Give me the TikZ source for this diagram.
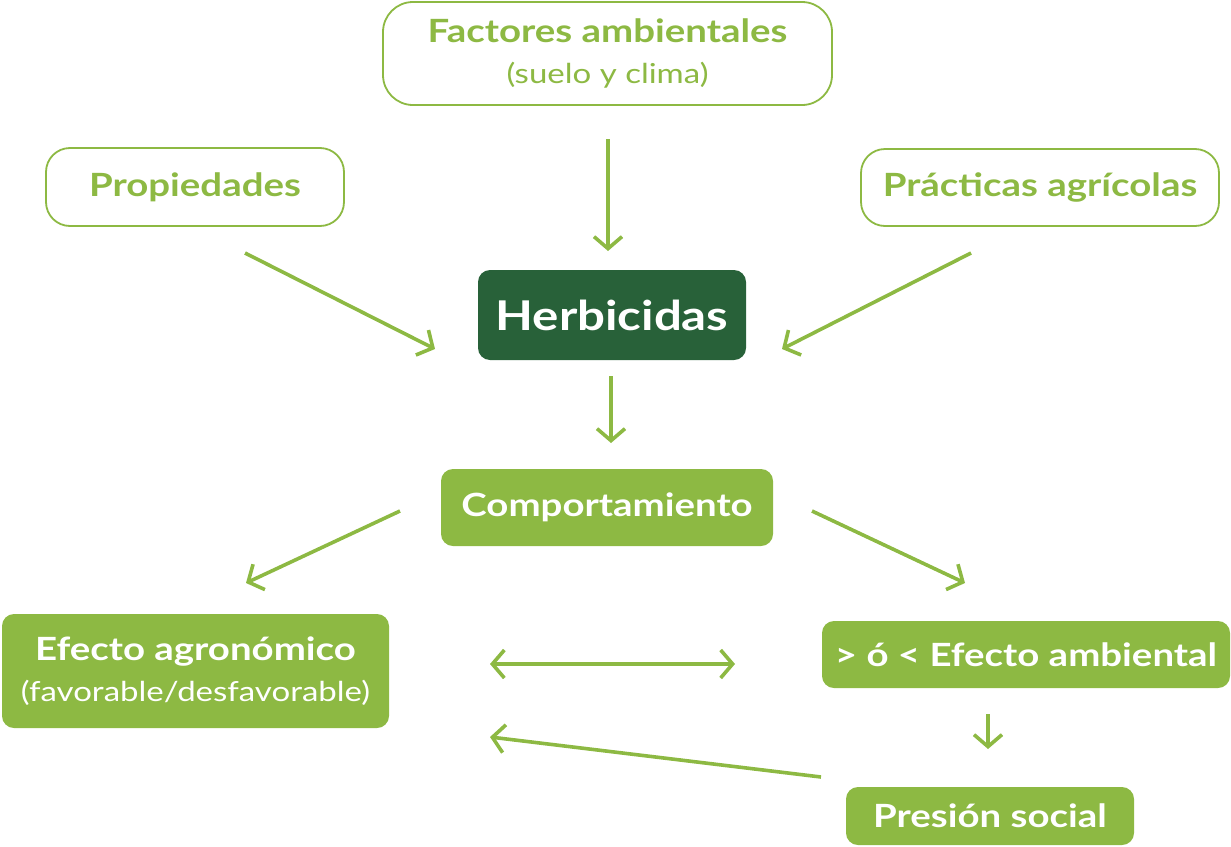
\documentclass[tikz,border=0pt]{standalone}
\usepackage{fontspec}
\setmainfont[FakeStretch=1.2]{Lato}
\usetikzlibrary{arrows.meta}
\definecolor{lgreen}{RGB}{141,185,67}
\definecolor{dgreen}{RGB}{40,97,57}
\newcommand{\bigb}{\fontsize{32}{41}\selectfont\bfseries}
\newcommand{\smr}{\fontsize{27.5}{41}\selectfont\mdseries}
\tikzset{
  outbox/.style={draw=lgreen, line width=1.8pt, fill=white, text=lgreen, align=center, inner sep=0pt, font=\bigb},
  fillbox/.style={fill=lgreen, text=white, align=center, inner sep=0pt, rounded corners=12pt, font=\bigb},
  darkbox/.style={fill=dgreen, text=white, align=center, inner sep=0pt, rounded corners=12pt},
  tip/.style={Straight Barb[length=12pt,width=28pt,line width=3.6pt]},
  conn/.style={draw=lgreen, line width=3.6pt, -{Straight Barb[length=12pt,width=28pt,line width=3.6pt]}},
  bconn/.style={draw=lgreen, line width=3.6pt, {Straight Barb[length=12pt,width=28pt,line width=3.6pt]}-{Straight Barb[length=12pt,width=28pt,line width=3.6pt]}},
}
\begin{document}
\begin{tikzpicture}[x=1pt,y=-1pt]
\useasboundingbox (0,0) rectangle (1231,846);
\node[outbox, rounded corners=30pt, minimum width=449pt, minimum height=103pt] (fa) at (607.5,53.5)
  {Factores ambientales\\{\smr (suelo y clima)}};
\node[outbox, rounded corners=24pt, minimum width=298pt, minimum height=78pt] (pr) at (195,187)
  {Propiedades};
\node[outbox, rounded corners=24pt, minimum width=358pt, minimum height=77pt] (pa) at (1040,187.5)
  {Prácticas agrícolas};
\node[darkbox, minimum width=268pt, minimum height=90pt, font=\fontsize{41}{50}\selectfont\bfseries] (he) at (612,315)
  {Herbicidas};
\node[fillbox, minimum width=332pt, minimum height=77pt] (co) at (607,507.5)
  {Comportamiento};
\node[fillbox, minimum width=387pt, minimum height=114pt] (ea) at (195.5,671)
  {Efecto agronómico\\{\smr (favorable/desfavorable)}};
\node[fillbox, minimum width=408pt, minimum height=67pt] (eb) at (1026,654.5)
  {> ó < Efecto ambiental};
\node[fillbox, minimum width=288pt, minimum height=58pt] (ps) at (990,816)
  {Presión social};
% arrow end points
\coordinate (a1s) at (608,139); \coordinate (a1e) at (608,251);
\coordinate (a2s) at (245,253); \coordinate (a2e) at (435,349);
\coordinate (a3s) at (971,253); \coordinate (a3e) at (782,349);
\coordinate (a4s) at (611,376); \coordinate (a4e) at (611,443);
\coordinate (a5s) at (400,511); \coordinate (a5e) at (246,583);
\coordinate (a6s) at (812,511); \coordinate (a6e) at (965,583);
\coordinate (a7s) at (490,664); \coordinate (a7e) at (735,664);
\coordinate (a8s) at (988,714); \coordinate (a8e) at (988,749);
\coordinate (a9s) at (821,777); \coordinate (a9e) at (490,737);
\draw[conn] (a1s) -- (a1e);
\draw[conn] (a2s) -- (a2e);
\draw[conn] (a3s) -- (a3e);
\draw[conn] (a4s) -- (a4e);
\draw[conn] (a5s) -- (a5e);
\draw[conn] (a6s) -- (a6e);
\draw[bconn] (a7s) -- (a7e);
\draw[conn] (a8s) -- (a8e);
\draw[conn] (a9s) -- (a9e);
\end{tikzpicture}
\end{document}
